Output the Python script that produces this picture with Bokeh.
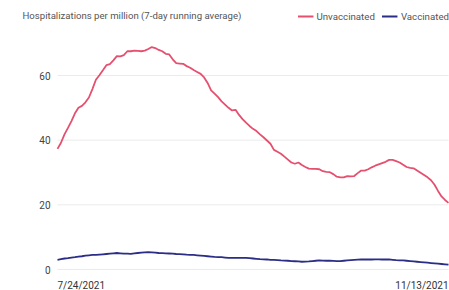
import pandas as pd
from bokeh.plotting import figure
from bokeh.models import Range1d, Label, Legend, LegendItem
from bokeh.embed import file_html
from bokeh.resources import INLINE

start_date = "2021-07-24"
title_text = "Hospitalizations per million (7-day running average)"
series_names = ["Unvaccinated", "Vaccinated"]
y_ticks = [0, 20, 40, 60]

unvaccinated = [
    37.3, 39.2, 41.8, 43.8, 45.9, 48.3, 50.0, 50.6, 51.7, 53.2,
    55.8, 58.7, 60.1, 61.6, 63.2, 63.5, 64.7, 66.0, 65.9, 66.3,
    67.5, 67.5, 67.7, 67.6, 67.5, 67.7, 68.2, 68.8, 68.5, 67.9,
    67.5, 66.7, 66.5, 65.0, 63.8, 63.7, 63.6, 62.9, 62.4, 61.7,
    61.1, 60.5, 59.4, 57.7, 55.4, 54.4, 53.3, 52.0, 51.0, 50.0,
    49.2, 49.4, 47.8, 46.5, 45.4, 44.4, 43.5, 42.8, 41.8, 40.9,
    39.9, 38.9, 37.0, 36.4, 35.8, 34.9, 34.0, 33.1, 32.7, 33.1,
    32.3, 31.7, 31.2, 31.1, 31.1, 31.0, 30.4, 30.2, 30.1, 29.5,
    28.7, 28.5, 28.5, 28.9, 28.8, 28.9, 29.8, 30.6, 30.6, 31.0,
    31.6, 32.1, 32.5, 32.9, 33.3, 33.9, 33.9, 33.5, 33.1, 32.4,
    31.7, 31.4, 31.3, 30.6, 29.9, 29.2, 28.5, 27.6, 26.2, 24.3,
    22.6, 21.5, 20.6,
]

vaccinated = [
    3.0, 3.2, 3.4, 3.5, 3.7, 3.8, 4.0, 4.1, 4.3, 4.4,
    4.5, 4.5, 4.6, 4.7, 4.8, 4.9, 5.0, 5.1, 5.0, 4.9,
    4.9, 4.85, 5.0, 5.1, 5.2, 5.3, 5.35, 5.3, 5.2, 5.1,
    5.05, 5.0, 4.95, 4.9, 4.8, 4.75, 4.7, 4.6, 4.55, 4.5,
    4.4, 4.3, 4.2, 4.1, 4.0, 3.9, 3.85, 3.8, 3.7, 3.6,
    3.6, 3.6, 3.6, 3.6, 3.6, 3.5, 3.4, 3.3, 3.2, 3.15,
    3.1, 3.0, 2.95, 2.9, 2.8, 2.75, 2.7, 2.6, 2.55, 2.5,
    2.4, 2.45, 2.5, 2.6, 2.7, 2.8, 2.75, 2.7, 2.7, 2.65,
    2.6, 2.6, 2.7, 2.8, 2.9, 3.0, 3.05, 3.1, 3.1, 3.1,
    3.1, 3.15, 3.15, 3.1, 3.1, 3.1, 3.0, 2.9, 2.85, 2.8,
    2.7, 2.6, 2.5, 2.4, 2.3, 2.2, 2.1, 2.0, 1.9, 1.8,
    1.7, 1.6, 1.5,
]

dates = pd.date_range(start_date, periods=len(unvaccinated), freq="D")

RED = "#e5506f"
BLUE = "#2b2d86"
FONT = "Roboto"

W, H = 449, 290
# pixel layout of the data area inside the canvas
left_px, right_px = 57, 448
zero_px, sixty_px = 269, 75

span = dates[-1] - dates[0]
x0 = dates[0] - span * (left_px / (right_px - left_px))
x1 = dates[-1] + span * ((W - right_px) / (right_px - left_px))
ppu = (zero_px - sixty_px) / 60.0
y_top = zero_px / ppu
y_bot = -(H - zero_px) / ppu

p = figure(
    width=W, height=H,
    x_axis_type="datetime",
    x_range=Range1d(x0, x1),
    y_range=Range1d(y_bot, y_top),
    output_backend="svg", toolbar_location=None,
    min_border=0,
)
p.outline_line_color = None
p.background_fill_color = "white"
p.border_fill_color = "white"
p.axis.visible = False
p.grid.visible = False

# grid lines across the data span
p.segment(x0=[dates[0]] * len(y_ticks), x1=[dates[-1]] * len(y_ticks),
          y0=y_ticks, y1=y_ticks, line_color="#ebebeb", line_width=1)

# y tick labels
p.text(x=[dates[0]] * len(y_ticks), y=y_ticks, text=[str(t) for t in y_ticks],
       x_offset=-7, text_align="right", text_baseline="middle",
       text_font={"value": FONT}, text_font_size="10px", text_color="#444444")

r1 = p.line(dates, unvaccinated, line_color=RED, line_width=1.8)
r2 = p.line(dates, vaccinated, line_color=BLUE, line_width=1.8)

def fmt(d):
    return f"{d.month}/{d.day}/{d.year}"

p.add_layout(Label(x=dates[0], y=0, y_offset=-16, text=fmt(dates[0]),
                   text_align="left", text_baseline="middle",
                   text_font=FONT, text_font_size="10px", text_color="#333333"))
p.add_layout(Label(x=dates[-1], y=0, y_offset=-16, text=fmt(dates[-1]),
                   text_align="right", text_baseline="middle",
                   text_font=FONT, text_font_size="10px", text_color="#333333"))

p.add_layout(Label(x=dates[0], y=y_top, x_offset=-35, y_offset=-15, text=title_text,
                   text_align="left", text_baseline="middle",
                   text_font=FONT, text_font_size="9.6px", text_color="#555555"))

legend = Legend(items=[LegendItem(label=series_names[0], renderers=[r1]),
                       LegendItem(label=series_names[1], renderers=[r2])],
                location="top_right", orientation="horizontal",
                border_line_color=None, background_fill_alpha=0,
                padding=0, margin=0, spacing=7, glyph_width=16, glyph_height=32,
                label_standoff=3, label_text_font=FONT, label_text_font_size="9.7px",
                label_text_color="#555555", label_height=32)
p.add_layout(legend)

open("out.html", "w").write(file_html(p, INLINE))
